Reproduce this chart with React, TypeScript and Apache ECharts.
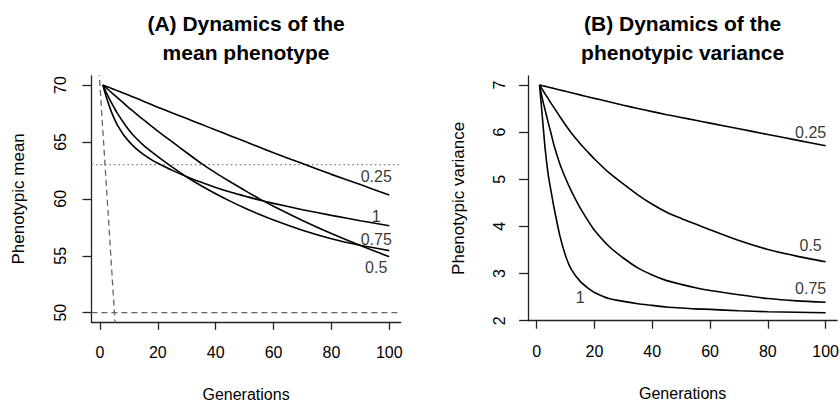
import React, { useEffect, useRef } from "react";
import * as echarts from "echarts";

// ---------- data ----------
const generations = [1, 2, 3, 4, 5, 6, 8, 10, 12, 15, 18, 20, 25, 30, 35, 40, 45, 50, 55, 60, 70, 80, 90, 100];

// (A) phenotypic mean
const meanH025 = [70, 69.9, 69.8, 69.7, 69.6, 69.5, 69.3, 69.1, 68.9, 68.58, 68.26, 68.05, 67.55, 67.05, 66.55, 66.05, 65.55, 65.05, 64.55, 64.05, 63.1, 62.15, 61.25, 60.34];
const meanH050 = [70, 69.78, 69.56, 69.34, 69.12, 68.9, 68.45, 68.0, 67.58, 66.95, 66.35, 65.95, 65.0, 64.05, 63.12, 62.28, 61.5, 60.75, 60.02, 59.35, 58.1, 56.95, 55.9, 54.92];
const meanH075 = [70, 69.45, 68.92, 68.42, 67.96, 67.53, 66.75, 66.05, 65.45, 64.72, 64.1, 63.7, 62.78, 61.92, 61.15, 60.45, 59.8, 59.2, 58.65, 58.15, 57.25, 56.5, 55.92, 55.45];
const meanH100 = [70, 69.1, 68.32, 67.62, 67.02, 66.5, 65.68, 65.05, 64.52, 63.9, 63.4, 63.12, 62.5, 61.95, 61.45, 61.0, 60.6, 60.25, 59.9, 59.6, 59.05, 58.55, 58.08, 57.64];

// (B) phenotypic variance
const varH025 = [7.0, 6.985, 6.97, 6.955, 6.94, 6.925, 6.895, 6.865, 6.835, 6.79, 6.745, 6.715, 6.645, 6.57, 6.5, 6.435, 6.37, 6.31, 6.25, 6.19, 6.07, 5.95, 5.83, 5.71];
const varH050 = [7.0, 6.9, 6.8, 6.71, 6.61, 6.52, 6.33, 6.15, 5.98, 5.76, 5.56, 5.43, 5.14, 4.9, 4.67, 4.47, 4.3, 4.17, 4.05, 3.93, 3.7, 3.51, 3.37, 3.25];
const varH075 = [7.0, 6.7, 6.45, 6.2, 5.97, 5.72, 5.33, 5.02, 4.75, 4.4, 4.1, 3.92, 3.58, 3.33, 3.12, 2.97, 2.85, 2.77, 2.7, 2.64, 2.55, 2.47, 2.42, 2.39];
const varH100 = [7.0, 6.3, 5.61, 5.1, 4.74, 4.4, 3.81, 3.38, 3.09, 2.84, 2.68, 2.6, 2.47, 2.41, 2.36, 2.325, 2.29, 2.27, 2.25, 2.24, 2.21, 2.19, 2.18, 2.17];

const curveNames = ["0.25", "0.5", "0.75", "1"];

// curve labels (same order as curveNames)
const meanLabelX = [95.5, 95.5, 95.5, 95.5];
const meanLabelY = [62.0, 54.0, 56.4, 58.45];
const varLabelX = [94.8, 94.8, 94.8, 15.1];
const varLabelY = [6.0, 3.59, 2.69, 2.5];

// ticks
const genTicks = [0, 20, 40, 60, 80, 100];
const meanTicks = [50, 55, 60, 65, 70];
const varTicks = [2, 3, 4, 5, 6, 7];

// axis ranges
const genRange = [-2.96, 103.96];
const meanRange = [49.2, 70.8];
const varRange = [2.0, 7.19];

// reference lines in panel A
const meanFloor = 50;
const meanThreshold = 63;
const meanLineIntercept = 70;
const meanLineSlope = -4;

const titleA = ["(A) Dynamics of the", "mean phenotype"];
const titleB = ["(B) Dynamics of the", "phenotypic variance"];

// ---------- styling ----------
const FONT = "'Liberation Sans', Arial, Helvetica, sans-serif";
const AXIS_COLOR = "#222";

function makeXAxis(gridIndex: number) {
  return {
    type: "value",
    gridIndex,
    min: genRange[0],
    max: genRange[1],
    axisLine: { show: true, onZero: false, lineStyle: { color: AXIS_COLOR, width: 1.3 } },
    axisTick: { show: true, length: 8, customValues: genTicks, lineStyle: { color: AXIS_COLOR, width: 1.3 } },
    axisLabel: { customValues: genTicks, margin: 23, fontSize: 16, color: "#000", fontFamily: FONT },
    splitLine: { show: false },
    name: "Generations",
    nameLocation: "middle",
    nameGap: 65,
    nameMoveOverlap: false,
    nameTextStyle: { fontSize: 16, color: "#000", fontFamily: FONT },
  };
}

function makeYAxis(gridIndex: number, range: number[], ticks: number[], name: string, labelMargin: number, nameGap: number) {
  return {
    type: "value",
    gridIndex,
    min: range[0],
    max: range[1],
    axisLine: { show: true, onZero: false, lineStyle: { color: AXIS_COLOR, width: 1.3 } },
    axisTick: { show: true, length: 9, customValues: ticks, lineStyle: { color: AXIS_COLOR, width: 1.3 } },
    axisLabel: { customValues: ticks, rotate: 90, margin: labelMargin, fontSize: 16, lineHeight: 16, color: "#000", fontFamily: FONT },
    splitLine: { show: false },
    name,
    nameLocation: "middle",
    nameGap,
    nameRotate: 90,
    nameMoveOverlap: false,
    nameTextStyle: { fontSize: 17, color: "#000", fontFamily: FONT },
  };
}

function curveSeries(values: number[], axisIndex: number, name: string) {
  return {
    type: "line",
    name,
    xAxisIndex: axisIndex,
    yAxisIndex: axisIndex,
    data: generations.map((g, i) => [g, values[i]]),
    showSymbol: false,
    symbol: "none",
    smooth: 0.25,
    lineStyle: { color: "#000", width: 1.6 },
    silent: true,
    z: 3,
  };
}

function labelSeries(xs: number[], ys: number[], axisIndex: number) {
  return {
    type: "scatter",
    xAxisIndex: axisIndex,
    yAxisIndex: axisIndex,
    data: curveNames.map((n, i) => [xs[i], ys[i], n]),
    symbolSize: 1,
    itemStyle: { color: "transparent" },
    silent: true,
    z: 4,
    label: {
      show: true,
      position: "inside",
      formatter: (p: any) => p.data[2],
      fontSize: 16,
      color: "#000",
      textBorderWidth: 0,
      fontFamily: FONT,
    },
  };
}

function refLine(data: number[][], type: any, color: string) {
  return {
    type: "line",
    xAxisIndex: 0,
    yAxisIndex: 0,
    data,
    showSymbol: false,
    symbol: "none",
    clip: true,
    silent: true,
    lineStyle: { color, width: 1.3, type },
    z: 2,
  };
}

export default function App() {
  const ref = useRef<HTMLDivElement>(null);

  useEffect(() => {
    document.body.style.margin = "0";
    if (!ref.current) return;
    const chart = echarts.init(ref.current, undefined, { renderer: "svg" });

    const slopeX0 = genRange[0];
    const slopeX1 = (meanRange[0] - 1 - meanLineIntercept) / meanLineSlope;

    const gridA = { left: 91.4, top: 75.9, width: 309.3, height: 245.9 };
    const gridB = { left: 528.1, top: 76.0, width: 309.0, height: 244.7 };
    const centerA = gridA.left + gridA.width / 2;
    const centerB = gridB.left + gridB.width / 2;

    const titleText = (text: string, x: number, y: number) => ({
      type: "text",
      x,
      y,
      silent: true,
      style: {
        text,
        align: "center",
        verticalAlign: "middle",
        fontSize: 21,
        fontWeight: "bold",
        fontFamily: FONT,
        fill: "#000",
      },
    });

    const option: any = {
      animation: false,
      backgroundColor: "#fff",
      grid: [
        { ...gridA, containLabel: false, outerBoundsMode: "none" },
        { ...gridB, containLabel: false, outerBoundsMode: "none" },
      ],
      xAxis: [makeXAxis(0), makeXAxis(1)],
      yAxis: [
        makeYAxis(0, meanRange, meanTicks, "Phenotypic mean", 23, 64),
        makeYAxis(1, varRange, varTicks, "Phenotypic variance", 21, 61),
      ],
      graphic: [
        titleText(titleA[0], centerA, 23),
        titleText(titleA[1], centerA, 52),
        titleText(titleB[0], centerB, 23),
        titleText(titleB[1], centerB, 52),
      ],
      series: [
        refLine([[genRange[0], meanFloor], [genRange[1], meanFloor]], [6, 4], "#666"),
        refLine([[genRange[0], meanThreshold], [genRange[1], meanThreshold]], [1.5, 3], "#777"),
        refLine(
          [
            [slopeX0, meanLineIntercept + meanLineSlope * slopeX0],
            [slopeX1, meanLineIntercept + meanLineSlope * slopeX1],
          ],
          [6, 4],
          "#666"
        ),
        curveSeries(meanH025, 0, "0.25"),
        curveSeries(meanH050, 0, "0.5"),
        curveSeries(meanH075, 0, "0.75"),
        curveSeries(meanH100, 0, "1"),
        curveSeries(varH025, 1, "0.25"),
        curveSeries(varH050, 1, "0.5"),
        curveSeries(varH075, 1, "0.75"),
        curveSeries(varH100, 1, "1"),
        labelSeries(meanLabelX, meanLabelY, 0),
        labelSeries(varLabelX, varLabelY, 1),
      ],
    };

    chart.setOption(option);
    return () => chart.dispose();
  }, []);

  return <div ref={ref} style={{ width: 840, height: 407 }} />;
}
